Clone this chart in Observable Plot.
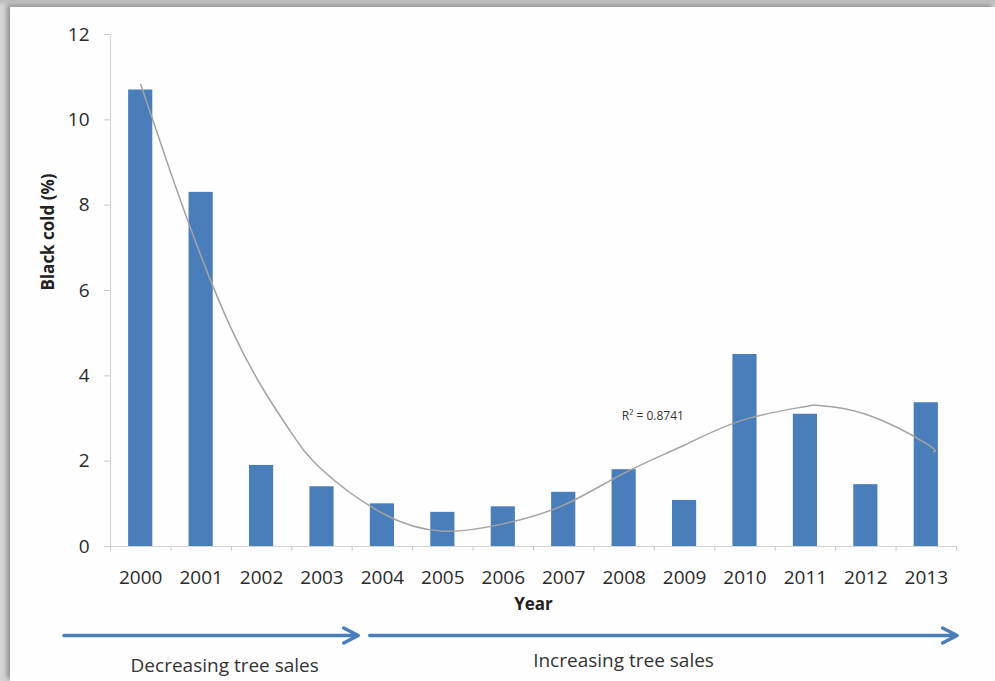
<!DOCTYPE html>
<html>
<head>
<meta charset="utf-8">
<script src="https://cdn.jsdelivr.net/npm/d3@7"></script>
<script src="https://cdn.jsdelivr.net/npm/@observablehq/plot@0.6"></script>
<style>
  html, body { margin: 0; padding: 0; }
  body { width: 995px; height: 681px; overflow: hidden; background: linear-gradient(#bdbdbd, #d6d6d6 7px); position: relative; }
  #panel { position: absolute; left: 10px; top: 7px; width: 985px; height: 674px; background: #fefefe;
           box-shadow: -3px -2px 5px rgba(0,0,0,0.35); }
</style>
</head>
<body>
<div id="panel"></div>
<script>
// --- data ---
const years = [2000, 2001, 2002, 2003, 2004, 2005, 2006, 2007, 2008, 2009, 2010, 2011, 2012, 2013];
const blackCold = [10.7, 8.3, 1.9, 1.4, 1.0, 0.8, 0.93, 1.27, 1.8, 1.08, 4.5, 3.1, 1.45, 3.37];

// trend line (polynomial fit drawn in the original)
const trendYears = [2000, 2000.5, 2001, 2001.5, 2002, 2002.5, 2003, 2004, 2005, 2006, 2007, 2008, 2009, 2010, 2011, 2011.2, 2012, 2013, 2013.12];
const trendValues = [10.83, 8.75, 6.8, 5.1, 3.75, 2.65, 1.8, 0.78, 0.36, 0.53, 0.97, 1.72, 2.38, 2.98, 3.28, 3.31, 3.1, 2.41, 2.22];

const yTicks = [0, 2, 4, 6, 8, 10, 12];
const r2Label = "R² = 0.8741";
const r2At = {year: 2007.96, value: 3.05};

const phaseLabels = ["Decreasing tree sales", "Increasing tree sales"];
const phaseFrom = [1998.73, 2003.79];
const phaseTo = [2003.6, 2013.51];
const phaseLabelAt = [2001.39, 2007.99];

// --- tables built from the arrays ---
const bars = years.map((year, i) => ({year, value: blackCold[i]}));
const trend = trendYears.map((year, i) => ({year, value: trendValues[i]}));
const boundaries = [years[0] - 0.5, ...years.map(y => y + 0.5)];
const phases = phaseLabels.map((label, i) => ({label, from: phaseFrom[i], to: phaseTo[i], at: phaseLabelAt[i]}));

const blue = "#4a7ebb";
const font = "Open Sans";

const chart = Plot.plot({
  width: 985,
  height: 674,
  marginLeft: 100,
  marginRight: 39,
  marginTop: 27,
  marginBottom: 135,
  style: {fontFamily: font, fontSize: "18px", color: "#333", background: "transparent", overflow: "visible"},
  x: {type: "linear", domain: [1999.5, 2013.5]},
  y: {domain: [0, 12]},
  marks: [
    Plot.ruleY([0], {stroke: "#d4d4d4", strokeWidth: 1.2}),
    Plot.ruleX([1999.5], {stroke: "#d4d4d4", strokeWidth: 1.2}),
    Plot.axisY({ticks: yTicks, tickSize: 6, tickPadding: 15, stroke: "#c8c8c8", fill: "#2a2a2a", fontSize: 19, label: null}),
    Plot.axisX({ticks: boundaries, tickSize: 5, tickFormat: () => "", stroke: "#c8c8c8", label: null}),
    Plot.axisX({ticks: years, tickSize: 0, tickPadding: 24, tickFormat: d => String(d), fill: "#2a2a2a", fontSize: 19, label: null}),
    Plot.rectY(bars, {x1: d => d.year - 0.2, x2: d => d.year + 0.2, y: "value", fill: blue}),
    Plot.line(trend, {x: "year", y: "value", curve: "natural", stroke: "#a3a3a3", strokeWidth: 1.5}),
    Plot.text([r2Label], {x: r2At.year, y: r2At.value, text: d => d, textAnchor: "start", fontSize: 12, fill: "#333"}),
    Plot.text(["Year"], {frameAnchor: "bottom", dy: 63, fontWeight: "bold", fontSize: 17, fill: "#222"}),
    Plot.text(["Black cold (%)"], {frameAnchor: "left", dx: -62, rotate: -90, fontWeight: "bold", fontSize: 17, fill: "#222"}),
    Plot.arrow(phases, {x1: "from", x2: "to", y1: 0, y2: 0, dy: 89, stroke: blue, strokeWidth: 3.5, headLength: 7, headAngle: 55}),
    Plot.text(phases.slice(0, 1), {x: "at", y: 0, text: "label", dy: 119, fontSize: 19, fill: "#333"}),
    Plot.text(phases.slice(1), {x: "at", y: 0, text: "label", dy: 114, fontSize: 19, fill: "#333"})
  ]
});

document.getElementById("panel").appendChild(chart);
</script>
</body>
</html>
